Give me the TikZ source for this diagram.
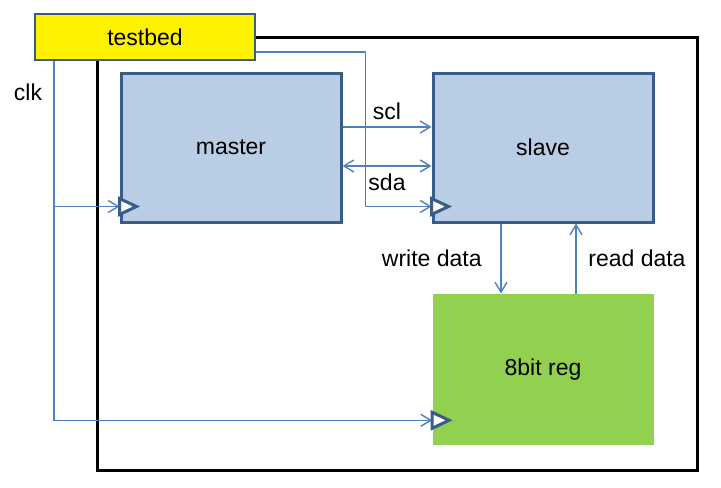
\documentclass[tikz,border=0pt]{standalone}
\usepackage{fontspec}
\setmainfont{Liberation Sans}
\usetikzlibrary{positioning,calc,arrows.meta}
\definecolor{boxblue}{HTML}{B9CDE5}
\definecolor{edgeblue}{HTML}{385D8A}
\definecolor{wireblue}{HTML}{4F81BD}
\definecolor{reggreen}{HTML}{92D050}

\begin{document}
\begin{tikzpicture}[
    x=0.5pt, y=-0.5pt,
    font=\fontsize{11.5}{14}\selectfont,
    block/.style={rectangle, draw=edgeblue, line width=1.5pt, fill=boxblue, minimum width=110pt, minimum height=74.5pt},
    tb/.style={rectangle, draw=edgeblue, line width=1.2pt, fill=yellow, minimum width=110pt, minimum height=23pt},
    reg/.style={rectangle, fill=reggreen, minimum width=110.5pt, minimum height=75.5pt},
    frame/.style={rectangle, draw=black, line width=1.5pt, minimum width=300pt, minimum height=216.5pt},
    clock/.style={draw=edgeblue, line width=1.5pt, fill=white, line join=miter},
    wire/.style={draw=wireblue, line width=0.7pt},
    arrow/.style={wire, -{Straight Barb[length=5pt,width=6pt]}},
    both/.style={wire, {Straight Barb[length=5pt,width=6pt]}-{Straight Barb[length=5pt,width=6pt]}}
]
\useasboundingbox (0,0) rectangle (721,487);

\node[frame] (dut) at (397,253.5) {};
\node[tb] (testbed) at (145,37) {testbed};
\node[block] (master) at (231,147.5) {master};
\node[block, right=44.5pt of master] (slave) {slave};
\node[reg, below=35pt of slave] (reg) {8bit reg};
\node (clklabel) at (28,92) {clk};

% clock pins
\coordinate (mclk) at ($(master.south west)+(0,-17)$);
\coordinate (sclk) at ($(slave.south west)+(0,-17)$);
\coordinate (rclk) at ($(reg.south west)+(0,-25)$);
\coordinate (clkx) at ([xshift=10pt]testbed.south west);

\draw[arrow] (clkx) |- (rclk);
\draw[arrow] (clkx |- mclk) -- (mclk);
\draw[arrow] ([yshift=-7.5pt]testbed.east) -| ([xshift=-33pt]sclk) -- (sclk);
\draw[arrow] ([yshift=10.25pt]master.east) -- node[above] {scl} ([yshift=10.25pt]slave.west);
\draw[both] ([yshift=-9.25pt]master.east) -- node[below] {sda} ([yshift=-9.25pt]slave.west);
\draw[arrow] ([xshift=-21pt]slave.south) -- node[left=6pt] {write data} ([xshift=-21pt]reg.north);
\draw[arrow] ([xshift=16.5pt]reg.north) -- node[right=2.5pt] {read data} ([xshift=16.5pt]slave.south);

\foreach \pin in {mclk,sclk,rclk}
    \draw[clock] (\pin) ++(0,-8) -- ++(17,8) -- ++(-17,8) -- cycle;

\end{tikzpicture}
\end{document}
